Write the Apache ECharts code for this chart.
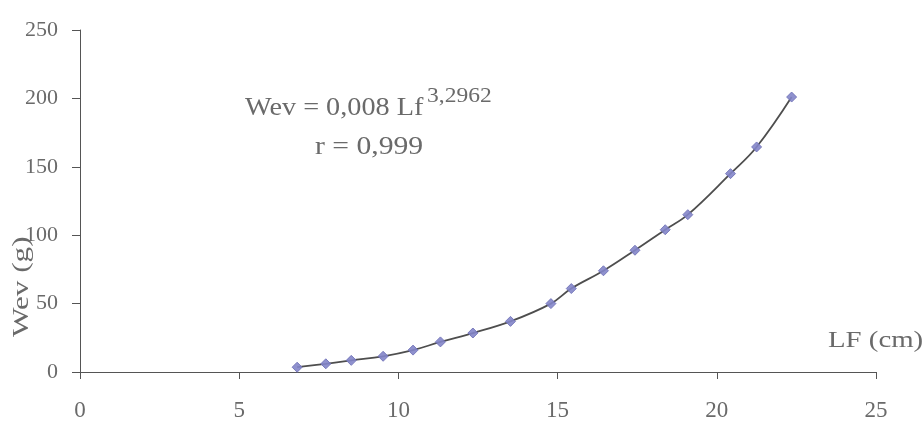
<!DOCTYPE html>
<html>
<head>
<meta charset="utf-8">
<script src="https://cdn.jsdelivr.net/npm/echarts@6/dist/echarts.min.js"></script>
<style>
html,body{margin:0;padding:0;background:#fff;}
#chart{width:924px;height:422px;}
</style>
</head>
<body>
<div id="chart"></div>
<script>
// Data
const lengthLF = [6.82, 7.72, 8.52, 9.52, 10.46, 11.32, 12.34, 13.52, 14.79, 15.43, 16.44, 17.43, 18.38, 19.09, 20.43, 21.25, 22.35];
const weightWev = [3.5, 6.0, 8.5, 11.5, 16, 22, 28.5, 37, 50, 61, 74, 89, 104, 115, 145, 164.5, 201];
const xTicks = [0, 5, 10, 15, 20, 25];
const yTicks = [0, 50, 100, 150, 200, 250];
const xTitle = 'LF (cm)';
const yTitle = 'Wev (g)';
const eqMain = 'Wev = 0,008 Lf';
const eqExp = '3,2962';
const eqR = 'r = 0,999';

const pts = lengthLF.map((x, i) => [x, weightWev[i]]);
const serif = 'Liberation Serif';
const txtColor = '#6a6a6a';
const axisColor = '#555';

const chart = echarts.init(document.getElementById('chart'), null, {renderer: 'canvas'});
chart.setOption({
  backgroundColor: '#fff',
  animation: false,
  grid: {left: 80, right: 48, top: 30, bottom: 50, containLabel: false},
  xAxis: {
    type: 'value', min: xTicks[0], max: xTicks[xTicks.length - 1], interval: 5,
    axisLine: {lineStyle: {color: axisColor, width: 1}},
    axisTick: {show: true, inside: false, length: 7, lineStyle: {color: axisColor}},
    axisLabel: {margin: 27, color: txtColor, fontFamily: serif, fontSize: 23},
    splitLine: {show: false}
  },
  yAxis: {
    type: 'value', min: yTicks[0], max: yTicks[yTicks.length - 1], interval: 50,
    axisLine: {show: true, lineStyle: {color: axisColor, width: 1}},
    axisTick: {show: true, inside: false, length: 8, lineStyle: {color: axisColor}},
    axisLabel: {margin: 22, color: txtColor, fontFamily: serif, fontSize: 22},
    splitLine: {show: false}
  },
  series: [
    {
      type: 'line', data: pts, smooth: 0.4, showSymbol: false, symbol: 'none',
      lineStyle: {color: '#4e4e4e', width: 1.8}, z: 2
    },
    {
      type: 'scatter', data: pts, symbol: 'diamond', symbolSize: 10,
      itemStyle: {color: '#8385c9', borderColor: '#7173b8', borderWidth: 1, opacity: 0.9}, z: 3
    }
  ],
  graphic: [
    {type: 'text', x: 245, y: 96, scaleX: 1.13, style: {text: eqMain, font: '25px "Liberation Serif"', fill: txtColor}},
    {type: 'text', x: 427, y: 86, scaleX: 1.12, style: {text: eqExp, font: '21px "Liberation Serif"', fill: txtColor}},
    {type: 'text', x: 315, y: 134, scaleX: 1.14, style: {text: eqR, font: '26px "Liberation Serif"', fill: txtColor}},
    {type: 'text', x: 828, y: 329, scaleX: 1.2, style: {text: xTitle, font: '24px "Liberation Serif"', fill: txtColor}},
    {type: 'text', x: 10, y: 337, rotation: Math.PI / 2, scaleX: 1.3, style: {text: yTitle, font: '24px "Liberation Serif"', fill: txtColor}}
  ]
});
</script>
</body>
</html>
